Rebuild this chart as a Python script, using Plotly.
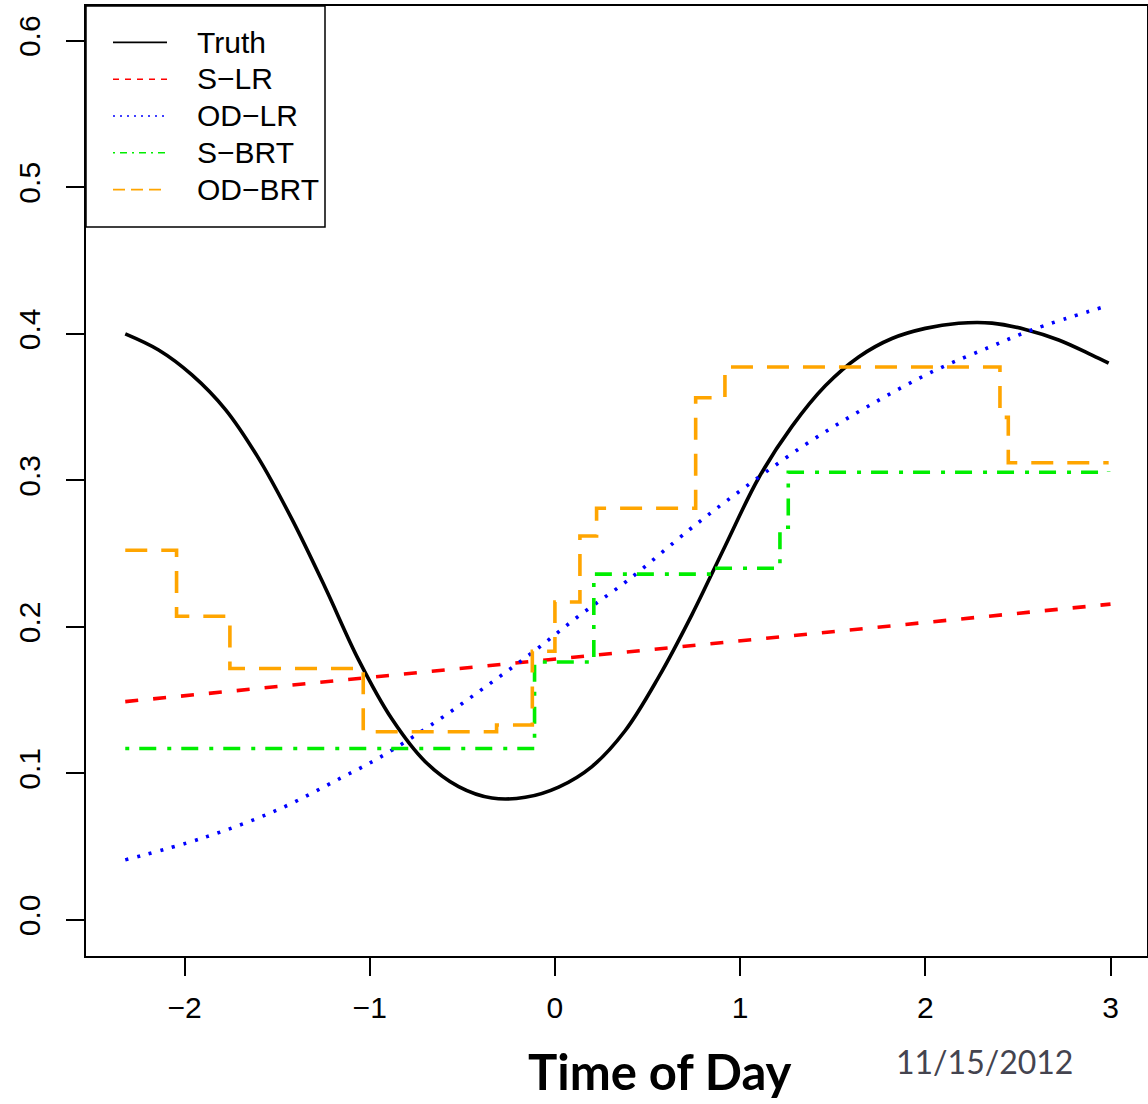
import plotly.graph_objects as go

# ---------------- data ----------------
truth_x = [-2.32, -2.14, -1.96, -1.78, -1.60, -1.42, -1.24, -1.06, -0.88, -0.70,
           -0.52, -0.34, -0.16, 0.02, 0.20, 0.38, 0.56, 0.74, 0.92, 1.10,
           1.28, 1.46, 1.64, 1.82, 2.00, 2.18, 2.36, 2.54, 2.72, 2.90, 2.99]
truth_y = [0.400, 0.389, 0.372, 0.3485, 0.315, 0.2735, 0.2267, 0.1775, 0.1371, 0.108,
           0.091, 0.0832, 0.0837, 0.0907, 0.1047, 0.1293, 0.1657, 0.2084, 0.2554, 0.3016,
           0.3368, 0.3645, 0.3842, 0.3968, 0.4037, 0.4072, 0.4073, 0.403, 0.3958, 0.3855, 0.380]

slr_x = [-2.32, 3.0]
slr_y = [0.149, 0.2155]

odlr_x = [-2.32, -1.90, -1.50, -1.16, -0.945, -0.657, -0.387, -0.117, 0.135, 0.396,
          0.729, 0.927, 1.332, 1.683, 2.052, 2.349, 2.583, 2.98]
odlr_y = [0.041, 0.056, 0.075, 0.0966, 0.111, 0.134, 0.158, 0.183, 0.208, 0.232,
          0.2666, 0.286, 0.3227, 0.350, 0.375, 0.391, 0.403, 0.419]

sbrt_x = [-2.32, -0.11, 0.21, 0.85, 1.215, 1.26, 2.99]
sbrt_y = [0.117, 0.176, 0.236, 0.240, 0.268, 0.3055, 0.306]

odbrt_x = [-2.32, -2.043, -1.755, -1.035, -0.315, -0.122, 0.0, 0.135, 0.225, 0.76,
           0.918, 2.403, 2.448, 2.99]
odbrt_y = [0.2523, 0.2073, 0.1716, 0.1284, 0.133, 0.1834, 0.217, 0.262, 0.281, 0.3564,
           0.3773, 0.343, 0.312, 0.312]

series_names = ["Truth", "S\u2212LR", "OD\u2212LR", "S\u2212BRT", "OD\u2212BRT"]
x_ticks = [-2, -1, 0, 1, 2, 3]
y_ticks = [0.0, 0.1, 0.2, 0.3, 0.4, 0.5, 0.6]
y_ticktext = ["0.0", "0.1", "0.2", "0.3", "0.4", "0.5", "0.6"]
x_title = "Time of Day"
date_text = "11/15/2012"

# ---------------- styles ----------------
colors = ["black", "#FF0000", "#0000FF", "#00EE00", "#FFA500"]
main_dash = ["solid", "13px,15px", "3px,9px", "4px,10px,17px,11px", "22px,14px"]
leg_dash = ["solid", "6px,6px", "2px,5px", "2px,5px,7px,5px", "12px,6px"]
FONT = "Liberation Sans, Arial, Helvetica, sans-serif"

W_FIG, H_FIG = 1148, 1104
ML, MR, MT, MB = 86, 1, 6, 148
PW, PH = W_FIG - ML - MR, H_FIG - MT - MB


def px_x(p):  # pixel x -> paper x
    return (p - ML) / PW


def px_y(p):  # pixel y -> paper y
    return 1 - (p - MT) / PH


fig = go.Figure()

data = [(truth_x, truth_y, "spline"), (slr_x, slr_y, "linear"),
        (odlr_x, odlr_y, "spline"), (sbrt_x, sbrt_y, "hv"), (odbrt_x, odbrt_y, "hv")]

for i, (xs, ys, shp) in enumerate(data):
    fig.add_trace(go.Scatter(
        x=xs, y=ys, mode="lines", showlegend=False, hoverinfo="skip",
        line=dict(color=colors[i], width=3.6, dash=main_dash[i], shape=shp,
                  smoothing=1.0 if shp == "spline" else None)))

# legend entries (thin sample lines like the R legend)
for i, name in enumerate(series_names):
    fig.add_trace(go.Scatter(
        x=[None], y=[None], mode="lines", showlegend=True,
        name='<span style="font-size:30px">\u00a0\u00a0\u00a0' + name + '</span>',
        line=dict(color=colors[i], width=1.6, dash=leg_dash[i])))

fig.update_layout(
    width=W_FIG, height=H_FIG,
    margin=dict(l=ML, r=MR, t=MT, b=MB, autoexpand=False),
    paper_bgcolor="white", plot_bgcolor="white",
    font=dict(family=FONT, size=30, color="black"),
    legend=dict(x=px_x(108), y=px_y(19), xanchor="left", yanchor="top",
                borderwidth=0, bgcolor="rgba(0,0,0,0)",
                font=dict(family=FONT, size=26, color="black"),
                itemwidth=54, tracegroupgap=0),
    shapes=[dict(type="rect", xref="paper", yref="paper",
                 x0=0, x1=px_x(325), y0=px_y(227), y1=1,
                 line=dict(color="black", width=1.5), fillcolor="white", layer="below")],
    xaxis=dict(range=[-2.532, 3.197], tickvals=x_ticks, ticks="outside",
               ticklen=18, tickwidth=1.5, tickcolor="black", automargin=False,
               showline=True, mirror=True, linecolor="black", linewidth=1.5,
               showgrid=False, zeroline=False, ticklabelstandoff=6,
               tickfont=dict(family=FONT, size=30, color="black")),
    yaxis=dict(range=[-0.0246, 0.6237], tickvals=y_ticks, ticktext=y_ticktext,
               tickangle=-90, ticks="outside", automargin=False,
               ticklen=18, tickwidth=1.5, tickcolor="black",
               showline=True, mirror=True, linecolor="black", linewidth=1.5,
               showgrid=False, zeroline=False, ticklabelstandoff=14,
               tickfont=dict(family=FONT, size=30, color="black")),
    annotations=[
        dict(text="<b>" + x_title + "</b>", xref="paper", yref="paper",
             x=px_x(660), y=px_y(1071), xanchor="center", yanchor="middle",
             showarrow=False, borderpad=0,
             font=dict(family="Lato, Open Sans, sans-serif", size=49, color="black")),
        dict(text=date_text, xref="paper", yref="paper",
             x=px_x(984), y=px_y(1061), xanchor="center", yanchor="middle",
             showarrow=False,
             font=dict(family="Lato, sans-serif", size=32, color="#44444f")),
    ],
)

fig.write_html("out.html", config={"displayModeBar": False},
               post_script="document.body.style.margin='0';document.body.style.padding='0';")
